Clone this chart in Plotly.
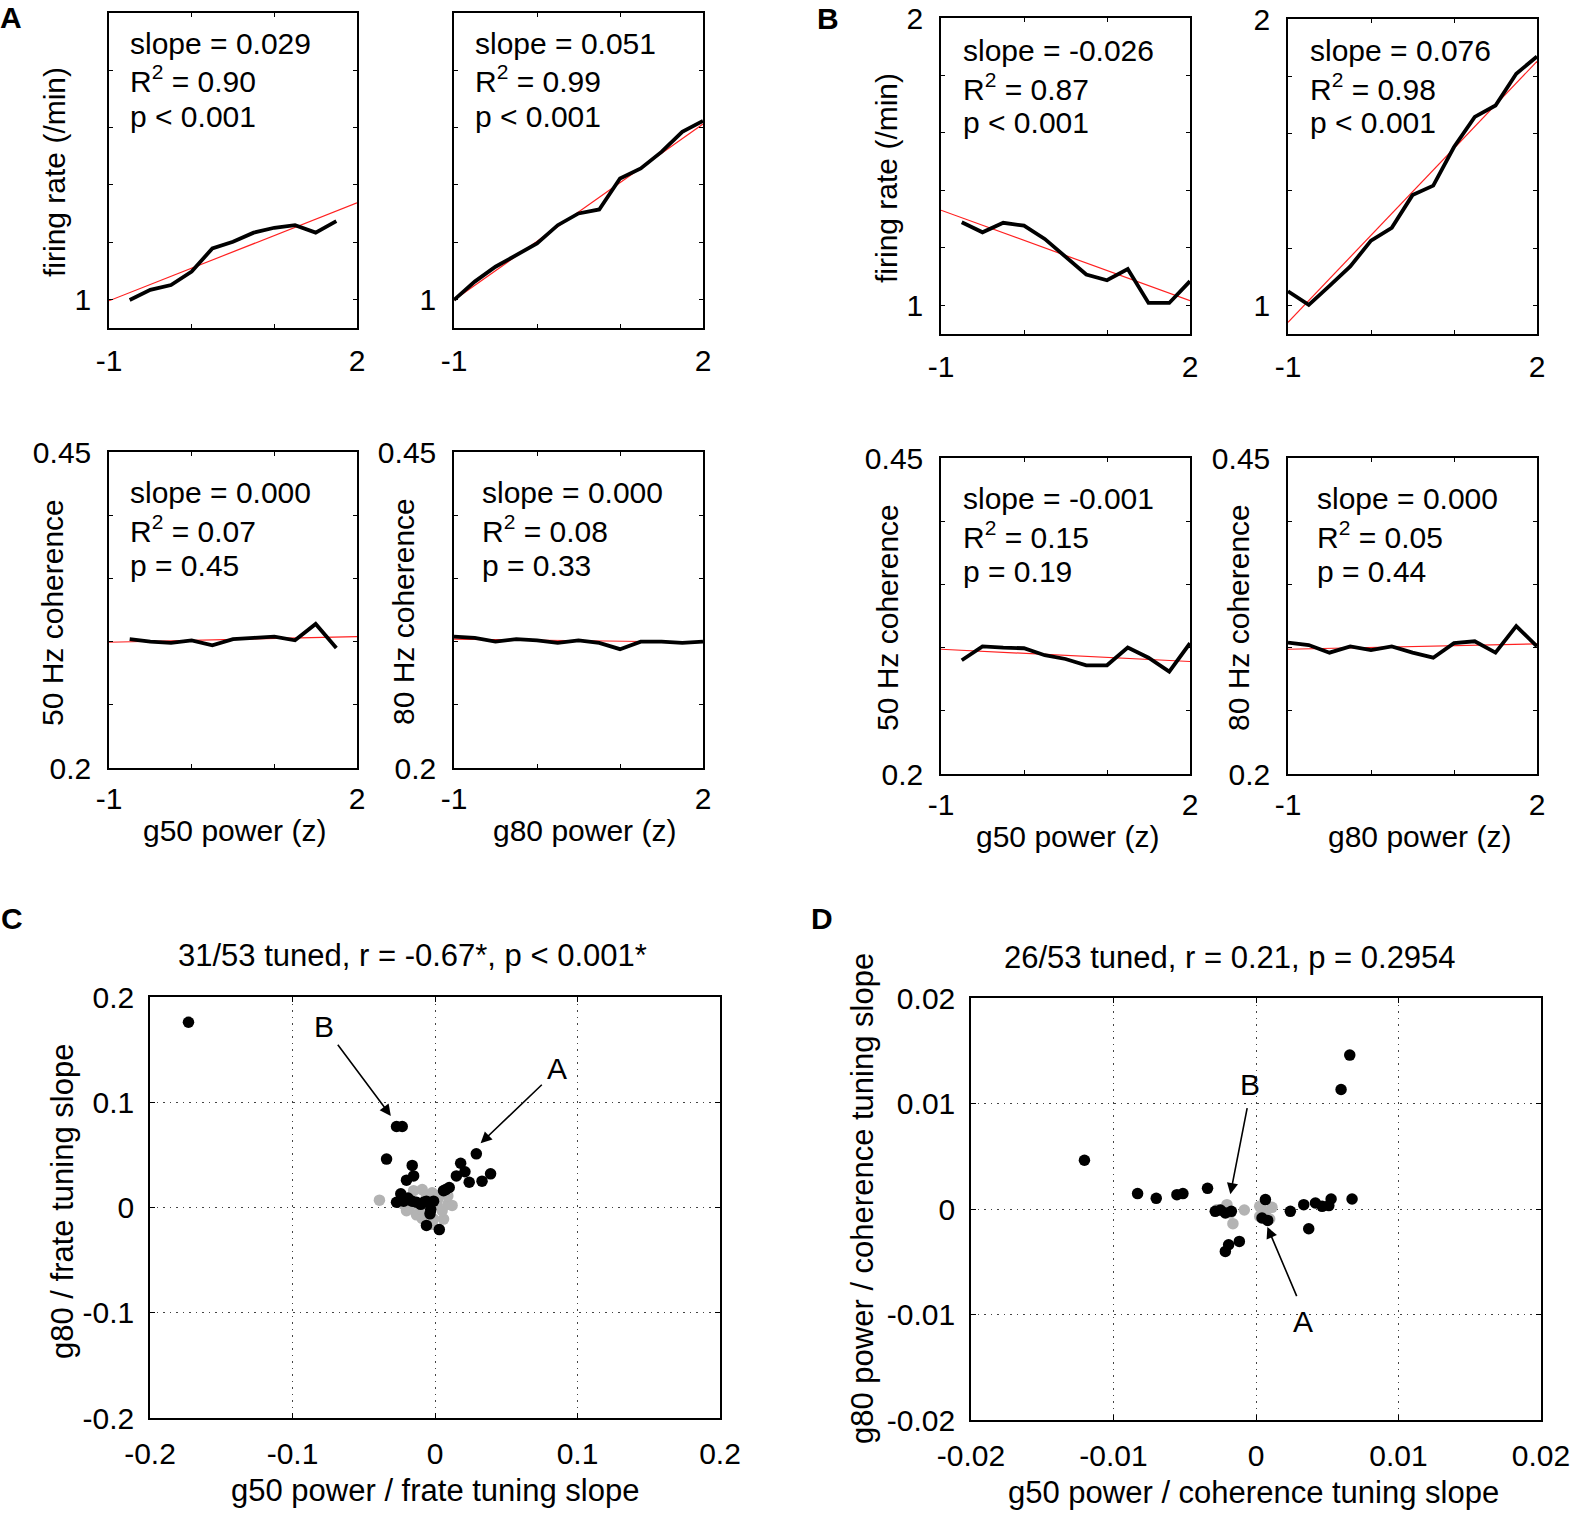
import plotly.graph_objects as go

W, H = 1577, 1520
FONT = "Liberation Sans, Arial, Helvetica, sans-serif"

# ---- tuning curves, values ----
# cell A
a_g50_bins = [-0.75, -0.5, -0.25, 0.0, 0.25, 0.5, 0.75, 1.0, 1.25, 1.5, 1.75]
a_g80_bins = [-1.0, -0.75, -0.5, -0.25, 0.0, 0.25, 0.5, 0.75, 1.0, 1.25, 1.5, 1.75, 2.0]
a_frate_g50 = [0.998, 1.033, 1.050, 1.097, 1.178, 1.201, 1.233, 1.250, 1.259, 1.233, 1.273]
a_frate_g80 = [0.998, 1.062, 1.114, 1.155, 1.195, 1.259, 1.300, 1.314, 1.422, 1.457, 1.515, 1.585, 1.623]
a_coh_g50 = [0.302, 0.300, 0.299, 0.301, 0.297, 0.302, 0.303, 0.304, 0.301, 0.314, 0.295]
a_coh_g80 = [0.304, 0.303, 0.300, 0.302, 0.301, 0.299, 0.301, 0.299, 0.294, 0.300, 0.300, 0.299, 0.300]

# cell B
b_g50_bins = [-0.75, -0.5, -0.25, 0.0, 0.25, 0.5, 0.75, 1.0, 1.25, 1.5, 1.75, 2.0]
b_g80_bins = [-1.0, -0.75, -0.5, -0.25, 0.0, 0.25, 0.5, 0.75, 1.0, 1.25, 1.5, 1.75, 2.0]
b_frate_g50 = [1.289, 1.254, 1.287, 1.277, 1.231, 1.171, 1.107, 1.087, 1.126, 1.008, 1.008, 1.084]
b_frate_g80 = [1.049, 1.002, 1.068, 1.136, 1.226, 1.271, 1.385, 1.418, 1.553, 1.658, 1.698, 1.809, 1.869]
b_coh_g50 = [0.290, 0.301, 0.300, 0.2995, 0.294, 0.291, 0.286, 0.286, 0.300, 0.292, 0.281, 0.3035]
b_coh_g80 = [0.304, 0.302, 0.296, 0.301, 0.298, 0.301, 0.296, 0.292, 0.3035, 0.305, 0.296, 0.317, 0.301]

# linear fits (end points)
fit_x = [-1.0, 2.0]
a_frate_g50_fit = [0.995, 1.337]
a_frate_g80_fit = [0.998, 1.612]
a_coh_g50_fit = [0.2995, 0.304]
a_coh_g80_fit = [0.302, 0.2995]
b_frate_g50_fit = [1.331, 1.016]
b_frate_g80_fit = [0.941, 1.852]
b_coh_g50_fit = [0.2987, 0.289]
b_coh_g80_fit = [0.2987, 0.303]

# stats printed in each panel
a_frate_g50_stats = ["slope = 0.029", "R<sup>2</sup> = 0.90", "p < 0.001"]
a_frate_g80_stats = ["slope = 0.051", "R<sup>2</sup> = 0.99", "p < 0.001"]
a_coh_g50_stats = ["slope = 0.000", "R<sup>2</sup> = 0.07", "p = 0.45"]
a_coh_g80_stats = ["slope = 0.000", "R<sup>2</sup> = 0.08", "p = 0.33"]
b_frate_g50_stats = ["slope = -0.026", "R<sup>2</sup> = 0.87", "p < 0.001"]
b_frate_g80_stats = ["slope = 0.076", "R<sup>2</sup> = 0.98", "p < 0.001"]
b_coh_g50_stats = ["slope = -0.001", "R<sup>2</sup> = 0.15", "p = 0.19"]
b_coh_g80_stats = ["slope = 0.000", "R<sup>2</sup> = 0.05", "p = 0.44"]

# ---- population tuning slopes ----
c_tuned_x = [-0.173, -0.027, -0.023, -0.034, -0.016, -0.015, -0.020, -0.024, -0.027, -0.016,
             -0.013, -0.008, -0.001, -0.0035, -0.006, 0.003, 0.0075, 0.010, 0.015, 0.018,
             0.021, 0.024, 0.029, 0.033, 0.039, -0.019, -0.010, -0.006, -0.003, -0.022, 0.006]
c_tuned_y = [0.176, 0.077, 0.077, 0.046, 0.040, 0.030, 0.026, 0.013, 0.005, 0.006,
             0.005, 0.005, 0.006, -0.006, -0.017, -0.021, 0.017, 0.019, 0.030, 0.042,
             0.034, 0.024, 0.051, 0.025, 0.032, 0.009, 0.003, 0.006, -0.002, 0.006, 0.016]
c_untuned_x = [-0.039, -0.009, -0.002, 0.0035, 0.009, 0.012, -0.020, -0.013, -0.009, 0.006, -0.022,
               -0.006, 0.001, -0.018, 0.005, -0.010, -0.001, 0.009, -0.005, 0.002, -0.015, -0.002]
c_untuned_y = [0.007, 0.017, 0.014, 0.012, 0.003, 0.002, -0.003, -0.007, -0.0105, -0.011, 0.003,
               0.011, 0.003, 0.0, -0.003, -0.0015, -0.011, 0.011, -0.003, 0.008, 0.016, -0.016]

d_tuned_x = [0.00658, 0.00597, -0.01204, -0.00831, -0.0070, -0.00555, -0.00513, -0.0034, -0.00286,
             -0.00215, -0.00173, -0.00117, -0.00192, -0.00215, 0.00066, 0.00042, 0.00082, 0.00241,
             0.00335, 0.00417, 0.00464, 0.00511, 0.00527, 0.0037, 0.00674, -0.0025]
d_tuned_y = [0.01459, 0.01133, 0.00462, 0.00146, 0.00101, 0.00136, 0.00146, 0.00196, -0.00022,
             -0.00038, -0.00022, -0.00307, -0.00339, -0.00402, 0.00089, -0.00085, -0.00108, -0.00022,
             0.00041, 0.00057, 0.00025, 0.00032, 0.00095, -0.00187, 0.00095, -0.0001]
d_untuned_x = [-0.00204, -0.00162, -0.00082, 0.00026, 0.00112, 0.00026, 0.00096,
               -0.00274, -0.00227, -0.0018, 0.00042, 0.00066]
d_untuned_y = [0.00041, -0.00139, -0.00009, 0.00025, 0.00016, -0.0007, -0.00095,
               -0.00006, 0.0, -0.00038, -0.00006, -0.00054]

c_title = "31/53 tuned, r = -0.67*, p < 0.001*"
d_title = "26/53 tuned, r = 0.21, p = 0.2954"
c_ticks = [-0.2, -0.1, 0, 0.1, 0.2]
c_ticktext = ["-0.2", "-0.1", "0", "0.1", "0.2"]
d_ticks = [-0.02, -0.01, 0, 0.01, 0.02]
d_ticktext = ["-0.02", "-0.01", "0", "0.01", "0.02"]


def px(x):
    return x / W


def py(y):
    return 1 - y / H


fig = go.Figure()
layout = {}
annotations = []


def text(x, y, s, size=30, angle=0, anchor="left", bold=False):
    annotations.append(dict(
        x=px(x), y=py(y), xref="paper", yref="paper", text=f"<b>{s}</b>" if bold else s,
        showarrow=False, xanchor=anchor, yanchor="middle", textangle=angle,
        font=dict(family=FONT, size=size, color="black"),
    ))


def axis_names(i):
    s = "" if i == 1 else str(i)
    return f"xaxis{s}", f"yaxis{s}", f"x{s}", f"y{s}"


# small tuning panels: (frame px, x data, y data, fit, stats, kind)
small = [
    ((109, 357, 13, 328), a_g50_bins, a_frate_g50, a_frate_g50_fit, a_frate_g50_stats, "frate"),
    ((454, 703, 13, 328), a_g80_bins, a_frate_g80, a_frate_g80_fit, a_frate_g80_stats, "frate"),
    ((941, 1190, 18, 334), b_g50_bins, b_frate_g50, b_frate_g50_fit, b_frate_g50_stats, "frate"),
    ((1288, 1537, 19, 334), b_g80_bins, b_frate_g80, b_frate_g80_fit, b_frate_g80_stats, "frate"),
    ((109, 357, 452, 768), a_g50_bins, a_coh_g50, a_coh_g50_fit, a_coh_g50_stats, "coh"),
    ((454, 703, 452, 768), a_g80_bins, a_coh_g80, a_coh_g80_fit, a_coh_g80_stats, "coh"),
    ((941, 1190, 458, 774), b_g50_bins, b_coh_g50, b_coh_g50_fit, b_coh_g50_stats, "coh"),
    ((1288, 1537, 458, 774), b_g80_bins, b_coh_g80, b_coh_g80_fit, b_coh_g80_stats, "coh"),
]
text_offsets = [(19, 30), (19, 30), (20, 32), (20, 31), (19, 40), (26, 40), (20, 40), (27, 40)]

for i, (frame, xs, ys, fit, stats, kind) in enumerate(small, start=1):
    xa, ya, xr, yr = axis_names(i)
    x0, x1, y0, y1 = frame
    fig.add_trace(go.Scatter(x=fit_x, y=fit, mode="lines", xaxis=xr, yaxis=yr,
                             line=dict(color="#ff2020", width=1.2)))
    fig.add_trace(go.Scatter(x=xs, y=ys, mode="lines", xaxis=xr, yaxis=yr,
                             line=dict(color="black", width=3.8)))
    common = dict(showline=True, linecolor="black", linewidth=1.5, mirror="ticks",
                  ticks="inside", ticklen=4, tickwidth=1.2, tickcolor="black",
                  showgrid=False, zeroline=False, fixedrange=True, automargin=False,
                  tickfont=dict(family=FONT, size=30, color="black"))
    layout[xa] = dict(common, domain=[px(x0), px(x1)], anchor=yr, range=[-1, 2],
                      tickvals=[-1, 2], ticktext=["-1", "2"],
                      minor=dict(tickvals=[0, 1], ticks="inside", ticklen=4, tickwidth=1.2,
                                 tickcolor="black", showgrid=False),
                      ticklabelstandoff=5 if kind == "frate" else 3)
    if kind == "frate":
        yt = dict(range=[0.9, 2], tickvals=[1, 2], ticktext=["1", "2"],
                  minor=dict(tickvals=[1.2, 1.4, 1.6, 1.8], ticks="inside", ticklen=4,
                             tickwidth=1.2, tickcolor="black", showgrid=False))
    else:
        yt = dict(range=[0.2, 0.45], tickvals=[0.2, 0.45], ticktext=["0.2", "0.45"],
                  minor=dict(tickvals=[0.25, 0.3, 0.35, 0.4], ticks="inside", ticklen=4,
                             tickwidth=1.2, tickcolor="black", showgrid=False))
    layout[ya] = dict(common, domain=[py(y1), py(y0)], anchor=xr, ticklabelstandoff=10, **yt)
    dx, dy = text_offsets[i - 1]
    for k, line in enumerate(stats):
        text(x0 + dx, y0 + dy + 36.5 * k, line)

# axis titles of the small panels
text(54, 172, "firing rate (/min)", angle=-90, anchor="center")
text(887, 178, "firing rate (/min)", angle=-90, anchor="center")
text(52, 612, "50 Hz coherence", angle=-90, anchor="center")
text(403, 612, "80 Hz coherence", angle=-90, anchor="center")
text(887, 618, "50 Hz coherence", angle=-90, anchor="center")
text(1238, 618, "80 Hz coherence", angle=-90, anchor="center")
text(234, 831, "g50 power (z)", anchor="center")
text(584, 831, "g80 power (z)", anchor="center")
text(1067, 836, "g50 power (z)", anchor="center")
text(1419, 836, "g80 power (z)", anchor="center")

# scatter panels C and D
big = [
    ((150, 720, 997, 1418), c_untuned_x, c_untuned_y, c_tuned_x, c_tuned_y, c_ticks, c_ticktext, 0.2),
    ((971, 1541, 998, 1420), d_untuned_x, d_untuned_y, d_tuned_x, d_tuned_y, d_ticks, d_ticktext, 0.02),
]
for j, (frame, ux, uy, tx, ty, tv, tt, lim) in enumerate(big, start=9):
    xa, ya, xr, yr = axis_names(j)
    x0, x1, y0, y1 = frame
    fig.add_trace(go.Scatter(x=ux, y=uy, mode="markers", xaxis=xr, yaxis=yr,
                             marker=dict(color="#b3b3b3", size=11.5, line=dict(width=0))))
    fig.add_trace(go.Scatter(x=tx, y=ty, mode="markers", xaxis=xr, yaxis=yr,
                             marker=dict(color="black", size=11.5, line=dict(width=0))))
    common = dict(showline=True, linecolor="black", linewidth=1.5, mirror="ticks",
                  ticks="inside", ticklen=5, tickwidth=1.2, tickcolor="black",
                  showgrid=True, gridcolor="#444444", gridwidth=1.3, griddash="1.5px,5px",
                  zeroline=False, fixedrange=True, automargin=False, range=[-lim, lim],
                  tickvals=tv, ticktext=tt,
                  tickfont=dict(family=FONT, size=30, color="black"))
    layout[xa] = dict(common, domain=[px(x0), px(x1)], anchor=yr, ticklabelstandoff=8)
    layout[ya] = dict(common, domain=[py(y1), py(y0)], anchor=xr, ticklabelstandoff=8)

text(412, 956, c_title, size=31, anchor="center")
text(1230, 957, d_title, size=31, anchor="center")
text(62, 1202, "g80 / frate tuning slope", size=31, angle=-90, anchor="center")
text(862, 1199, "g80 power / coherence tuning slope", size=31, angle=-90, anchor="center")
text(435, 1490, "g50 power / frate tuning slope", size=31, anchor="center")
text(1253, 1492, "g50 power / coherence tuning slope", size=31, anchor="center")

# panel letters
text(11, 18, "A", size=30, anchor="center", bold=True)
text(828, 19, "B", size=30, anchor="center", bold=True)
text(12, 918, "C", size=30, anchor="center", bold=True)
text(822, 918, "D", size=30, anchor="center", bold=True)


# arrows pointing at the example cells
def arrow(axn, tip, tail, label, label_at):
    xr, yr = ("x", "y") if axn == 1 else (f"x{axn}", f"y{axn}")
    annotations.append(dict(x=tip[0], y=tip[1], ax=tail[0], ay=tail[1], xref=xr, yref=yr,
                            axref=xr, ayref=yr, text="", showarrow=True, arrowhead=2,
                            arrowsize=1.4, arrowwidth=1.6, arrowcolor="black", standoff=0))
    annotations.append(dict(x=label_at[0], y=label_at[1], xref=xr, yref=yr, text=label,
                            showarrow=False, xanchor="center", yanchor="middle",
                            font=dict(family=FONT, size=30, color="black")))


arrow(9, (-0.031, 0.087), (-0.069, 0.156), "B", (-0.078, 0.172))
arrow(9, (0.032, 0.061), (0.076, 0.118), "A", (0.0855, 0.1325))
arrow(10, (-0.0018, 0.0014), (-0.0006, 0.0097), "B", (-0.0004, 0.0118))
arrow(10, (0.0008, -0.0017), (0.0029, -0.0084), "A", (0.0033, -0.0107))

fig.update_layout(
    width=W, height=H, autosize=False, showlegend=False,
    margin=dict(l=0, r=0, t=0, b=0, pad=0),
    paper_bgcolor="white", plot_bgcolor="white",
    font=dict(family=FONT, size=30, color="black"),
    annotations=annotations,
    **layout,
)

# the page body has a default 8px margin; drop it so the figure sits at the origin
fig.write_html("out.html", config={"displayModeBar": False},
               post_script="document.body.style.margin = '0px';")
